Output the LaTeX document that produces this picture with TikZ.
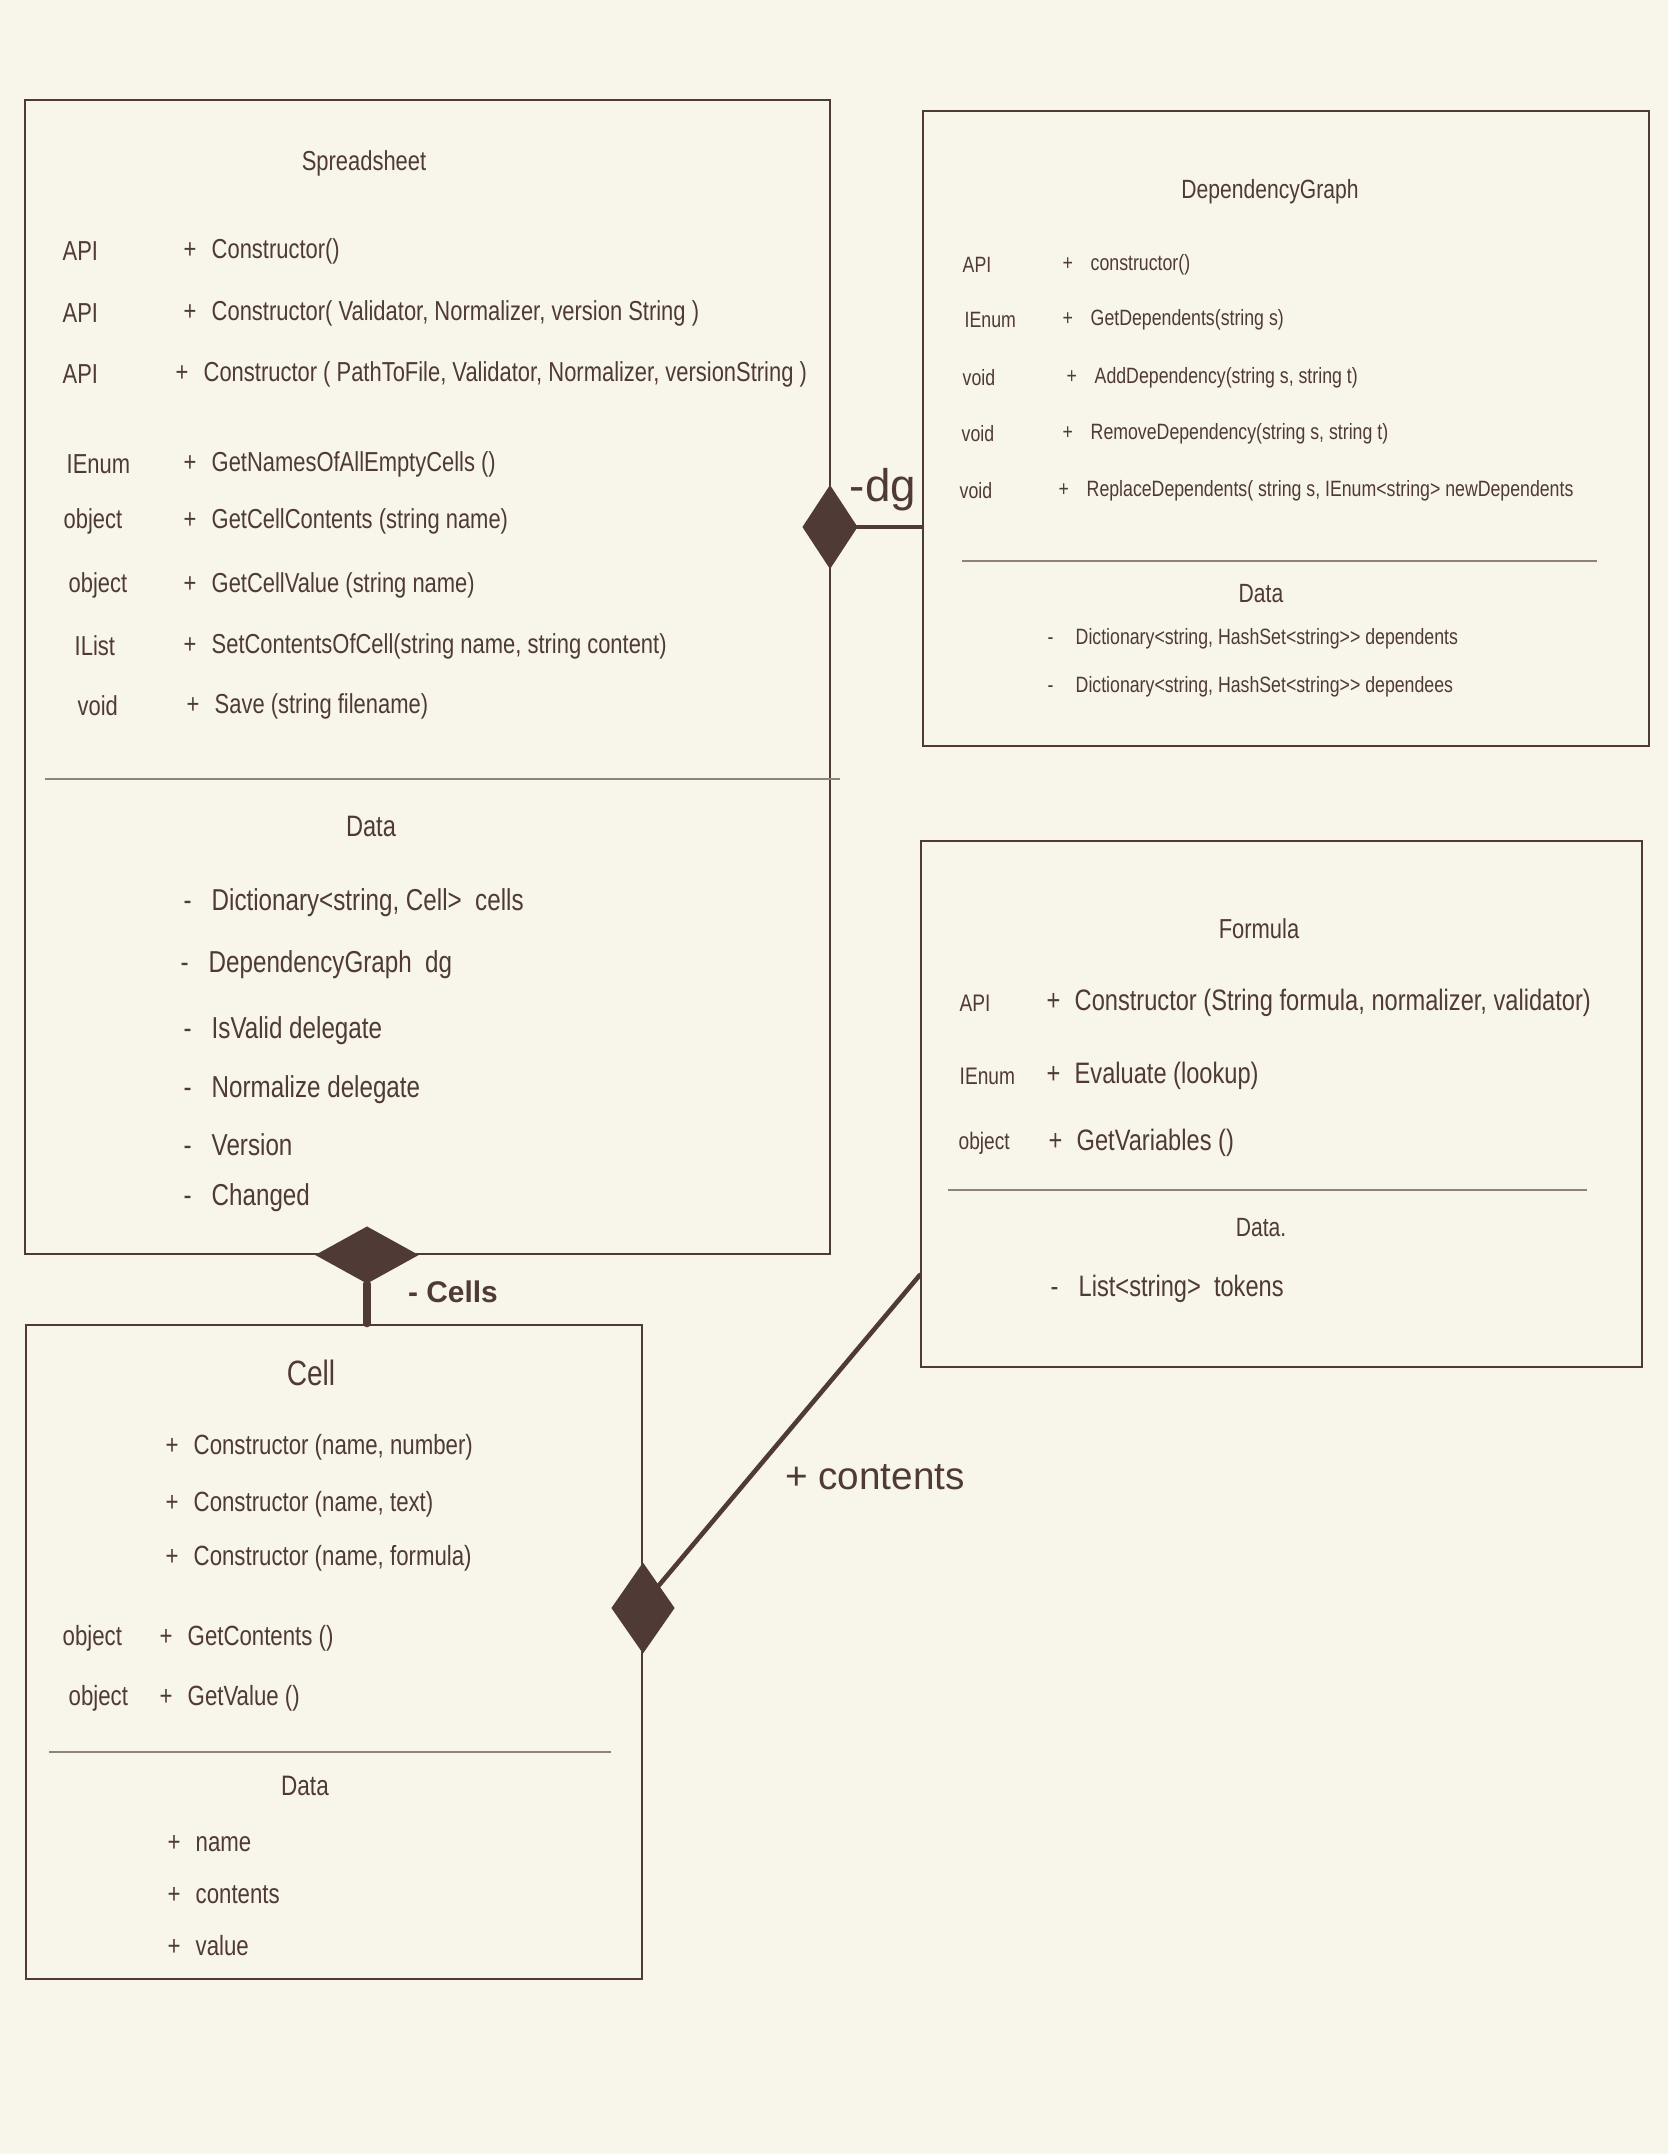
\documentclass[tikz,border=0pt]{standalone}
\usepackage{fontspec}
\setmainfont{Liberation Sans}[FakeStretch=0.8]
\newfontfamily\labelfont{Liberation Sans}
\usepackage{xcolor}
\usetikzlibrary{shapes.geometric,positioning}

\definecolor{paper}{HTML}{F8F5EB}
\definecolor{ink}{HTML}{4F3A36}
\definecolor{rulegray}{HTML}{8E827A}

\newcommand{\fsz}[1]{\fontsize{#1}{#1}\selectfont}
\newcommand{\plusmark}{\makebox[0.28cm][l]{+}}
\newcommand{\minusmark}{\makebox[0.28cm][l]{-}}

\begin{document}
\begin{tikzpicture}[x=0.01cm, y=-0.01cm,
  cls/.style={draw=ink, line width=0.6pt, rectangle, inner sep=0pt},
  ttl/.style={text=ink, inner sep=0pt},
  typ/.style={text=ink, anchor=west, inner sep=0pt},
  mbr/.style={text=ink, anchor=west, inner sep=0pt},
  divline/.style={draw=rulegray, line width=0.6pt},
  diam/.style={diamond, fill=ink, draw=ink, inner sep=0pt},
  link/.style={draw=ink, line width=1.3pt, line cap=round},
  lbl/.style={text=ink, inner sep=0pt}
]
\fill[paper] (0,0) rectangle (1668,2154);
\useasboundingbox (0,0) rectangle (1668,2154);

% class boxes
\node[cls, minimum width=8.05cm, minimum height=11.54cm] (ss) at (427.5,677) {};
\node[cls, minimum width=7.26cm, minimum height=6.35cm] (dg) at (1286,428.5) {};
\node[cls, minimum width=7.21cm, minimum height=5.26cm] (fm) at (1281.5,1104) {};
\node[cls, minimum width=6.16cm, minimum height=6.54cm] (cell) at (334,1652) {};

\draw[divline] (45,779) -- (840,779);
\draw[divline] (962,561) -- (1597,561);
\draw[divline] (948,1190) -- (1587,1190);
\draw[divline] (49,1752) -- (611,1752);

% Spreadsheet
\begin{scope}[font=\fsz{7.8}]
\node[ttl] (ss-title) at (364,163) {Spreadsheet};
\node[typ] (ss-t1) at (62,251) {API};
\node[mbr] (ss-m1) at (183,251) {\plusmark Constructor()};
\node[typ] (ss-t2) at (62,313) {API};
\node[mbr] (ss-m2) at (183,313) {\plusmark Constructor( Validator, Normalizer, version String )};
\node[typ] (ss-t3) at (62,374) {API};
\node[mbr] (ss-m3) at (175,374) {\plusmark Constructor ( PathToFile, Validator, Normalizer, versionString )};
\node[typ] (ss-t4) at (66,464) {IEnum};
\node[mbr] (ss-m4) at (183,464) {\plusmark GetNamesOfAllEmptyCells ()};
\node[typ] (ss-t5) at (63,521) {object};
\node[mbr] (ss-m5) at (183,521) {\plusmark GetCellContents (string name)};
\node[typ] (ss-t6) at (68,585) {object};
\node[mbr] (ss-m6) at (183,585) {\plusmark GetCellValue (string name)};
\node[typ] (ss-t7) at (74,646) {IList};
\node[mbr] (ss-m7) at (183,646) {\plusmark SetContentsOfCell(string name, string content)};
\node[typ] (ss-t8) at (77,706) {void};
\node[mbr] (ss-m8) at (186,706) {\plusmark Save (string filename)};
\node[ttl, font=\fsz{8.4}] (ss-data) at (371,826) {Data};
\begin{scope}[font=\fsz{8.6}]
\node[mbr] (ss-d1) at (183,903) {\minusmark Dictionary<string, Cell>\ \ cells};
\node[mbr] (ss-d2) at (180,965) {\minusmark DependencyGraph\ \ dg};
\node[mbr] (ss-d3) at (183,1031) {\minusmark IsValid delegate};
\node[mbr] (ss-d4) at (183,1090) {\minusmark Normalize delegate};
\node[mbr] (ss-d5) at (183,1145) {\minusmark Version};
\node[mbr] (ss-d6) at (183,1198) {\minusmark Changed};
\end{scope}
\end{scope}

% DependencyGraph
\begin{scope}[font=\fsz{6.3}]
\node[ttl, font=\fsz{7.5}] (dg-title) at (1270,192) {DependencyGraph};
\node[typ] (dg-t1) at (962,265) {API};
\node[mbr] (dg-m1) at (1062,265) {\plusmark constructor()};
\node[typ] (dg-t2) at (964,320) {IEnum};
\node[mbr] (dg-m2) at (1062,320) {\plusmark GetDependents(string s)};
\node[typ] (dg-t3) at (962,378) {void};
\node[mbr] (dg-m3) at (1066,378) {\plusmark AddDependency(string s, string t)};
\node[typ] (dg-t4) at (961,434) {void};
\node[mbr] (dg-m4) at (1062,434) {\plusmark RemoveDependency(string s, string t)};
\node[typ] (dg-t5) at (959,491) {void};
\node[mbr] (dg-m5) at (1058,491) {\plusmark ReplaceDependents( string s, IEnum<string> newDependents};
\node[ttl, font=\fsz{7.5}] (dg-data) at (1261,594) {Data};
\node[mbr] (dg-d1) at (1047,639) {\minusmark Dictionary<string, HashSet<string>{}> dependents};
\node[mbr] (dg-d2) at (1047,687) {\minusmark Dictionary<string, HashSet<string>{}> dependees};
\end{scope}

% Formula
\begin{scope}[font=\fsz{8.4}]
\node[ttl, font=\fsz{7.8}] (fm-title) at (1259,929) {Formula};
\node[typ, font=\fsz{6.8}] (fm-t1) at (959,1003) {API};
\node[mbr] (fm-m1) at (1046,1003) {\plusmark Constructor (String formula, normalizer, validator)};
\node[typ, font=\fsz{6.8}] (fm-t2) at (959,1076) {IEnum};
\node[mbr] (fm-m2) at (1046,1076) {\plusmark Evaluate (lookup)};
\node[typ, font=\fsz{6.8}] (fm-t3) at (958,1143) {object};
\node[mbr] (fm-m3) at (1048,1143) {\plusmark GetVariables ()};
\node[ttl, font=\fsz{7.5}] (fm-data) at (1261,1228) {Data.};
\node[mbr] (fm-d1) at (1050,1289) {\minusmark List<string>\ \ tokens};
\end{scope}

% Cell
\begin{scope}[font=\fsz{7.9}]
\node[ttl, font=\fsz{10}] (cell-title) at (311,1373) {Cell};
\node[mbr] (cell-m1) at (165,1447) {\plusmark Constructor (name, number)};
\node[mbr] (cell-m2) at (165,1504) {\plusmark Constructor (name, text)};
\node[mbr] (cell-m3) at (165,1558) {\plusmark Constructor (name, formula)};
\node[typ] (cell-t4) at (62,1638) {object};
\node[mbr] (cell-m4) at (159,1638) {\plusmark GetContents ()};
\node[typ] (cell-t5) at (68,1698) {object};
\node[mbr] (cell-m5) at (159,1698) {\plusmark GetValue ()};
\node[ttl, font=\fsz{8}] (cell-data) at (305,1786) {Data};
\node[mbr] (cell-d1) at (167,1844) {\plusmark name};
\node[mbr] (cell-d2) at (167,1895) {\plusmark contents};
\node[mbr] (cell-d3) at (167,1946) {\plusmark value};
\end{scope}

% compositions
\node[diam, minimum width=0.54cm, minimum height=0.82cm] (dgd) at (830,527) {};
\node[diam, minimum width=1.01cm, minimum height=0.56cm] (cld) at (367,1255) {};
\node[diam, minimum width=0.62cm, minimum height=0.89cm] (ctd) at (643,1608) {};
\draw[link] (dgd.east) -- (dg.west |- dgd.east);
\draw[link, line width=2pt] (cld.south) -- (cell.north -| cld.south);
\draw[link] (ctd.north east) -- ([yshift=-1.71cm]fm.west);

\node[lbl, font=\labelfont\fsz{13}] (dg-lbl) at (883,490) {-dg};
\node[lbl, font=\labelfont\bfseries\fsz{8.5}] (cell-lbl) at (453,1292) {- Cells};
\node[lbl, font=\labelfont\fsz{11}] (ct-lbl) at (875,1477) {+ contents};
\end{tikzpicture}
\end{document}
